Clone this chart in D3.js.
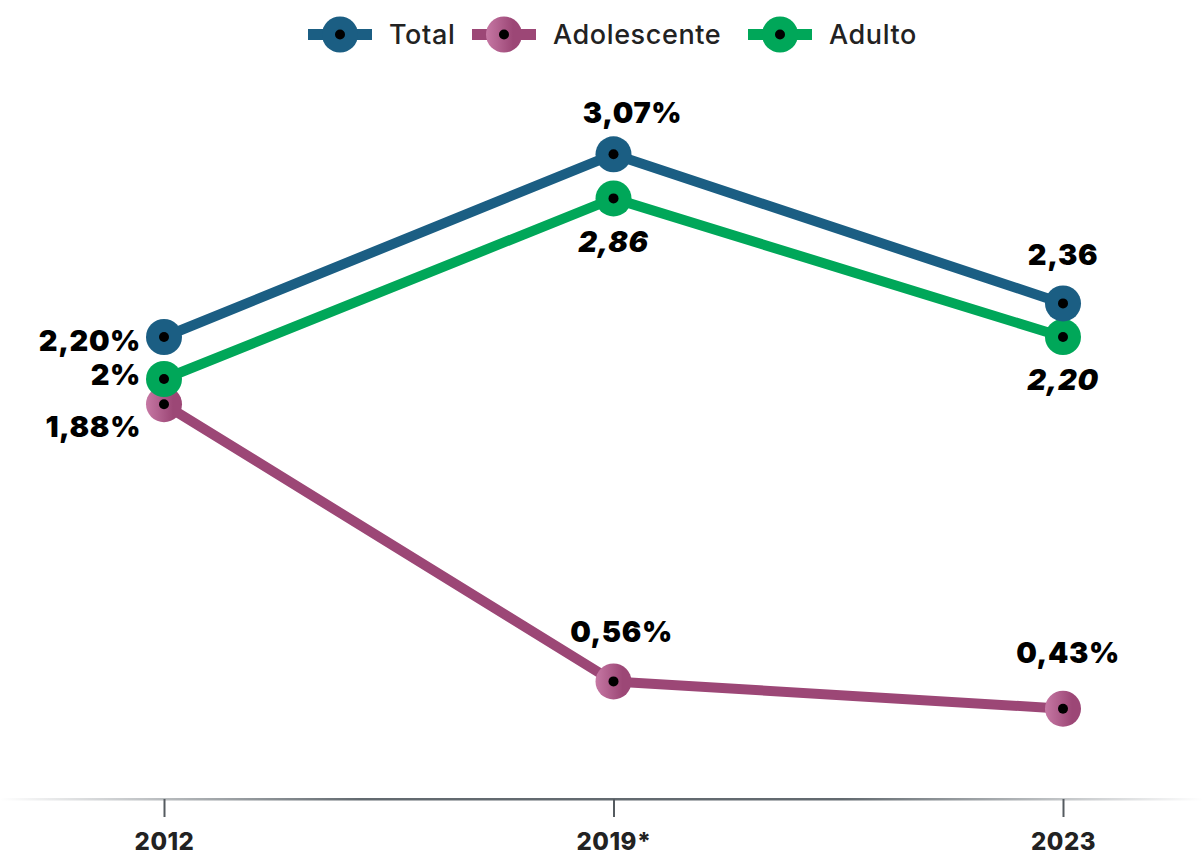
<!DOCTYPE html>
<html><head><meta charset="utf-8">
<script src="https://cdn.jsdelivr.net/npm/d3@7"></script>
<style>
html,body{margin:0;padding:0;background:#fff;}
svg{display:block;}
</style></head>
<body>
<svg id="chart" width="1203" height="858"></svg>
<script>
const years = ["2012", "2019*", "2023"];
const seriesNames = ["Total", "Adolescente", "Adulto"];
const totalValues = [2.20, 3.07, 2.36];
const adolescenteValues = [1.88, 0.56, 0.43];
const adultoValues = [2.00, 2.86, 2.20];
const totalLabels = ["2,20%", "3,07%", "2,36"];
const adolescenteLabels = ["1,88%", "0,56%", "0,43%"];
const adultoLabels = ["2%", "2,86", "2,20"];
const colors = ["#1b5e83", "#9c4776", "#00a759"];

const svg = d3.select("#chart");
const W = 1203, H = 858;
const FONT = "Inter, 'Open Sans', sans-serif";

const x = d3.scalePoint().domain(years).range([164, 1063]);
const y = d3.scaleLinear().domain([0, 3.8]).range([799, 1]);

const defs = svg.append("defs");
const ag = defs.append("linearGradient").attr("id","axisGrad").attr("x1","0%").attr("x2","100%");
ag.append("stop").attr("offset","0%").attr("stop-color","#5a6268").attr("stop-opacity",0);
ag.append("stop").attr("offset","30%").attr("stop-color","#5a6268").attr("stop-opacity",0.95);
ag.append("stop").attr("offset","70%").attr("stop-color","#5a6268").attr("stop-opacity",0.95);
ag.append("stop").attr("offset","100%").attr("stop-color","#5a6268").attr("stop-opacity",0);
const pg = defs.append("linearGradient").attr("id","pinkGrad").attr("x1","0%").attr("x2","100%");
pg.append("stop").attr("offset","0%").attr("stop-color","#c678a4");
pg.append("stop").attr("offset","75%").attr("stop-color","#9c4776");

// axis
svg.append("rect").attr("x", 0).attr("y", 798).attr("width", W).attr("height", 2.5).attr("fill","url(#axisGrad)");
const axis = d3.axisBottom(x).tickSize(18).tickPadding(20);
const ax = svg.append("g").attr("transform","translate(0,799)").call(axis);
ax.select(".domain").remove();
ax.selectAll(".tick line").attr("stroke","#555b60").attr("stroke-width",2);
ax.selectAll(".tick text").attr("fill","#222").attr("font-family",FONT).attr("font-weight",800)
  .attr("font-size",24).attr("letter-spacing",0.5).attr("dy","0.55em");

const series = [
  {name: seriesNames[0], values: totalValues, labels: totalLabels, color: colors[0], fill: colors[0]},
  {name: seriesNames[1], values: adolescenteValues, labels: adolescenteLabels, color: colors[1], fill: "url(#pinkGrad)"},
  {name: seriesNames[2], values: adultoValues, labels: adultoLabels, color: colors[2], fill: colors[2]}
];

const line = d3.line().x((d,i)=>x(years[i])).y(d=>y(d));
[1,2,0].forEach(si=>{
  const s = series[si];
  svg.append("path").attr("d", line(s.values)).attr("fill","none")
    .attr("stroke", s.color).attr("stroke-width", 10).attr("stroke-linejoin","round");
});
[1,2,0].forEach(si=>{
  const s = series[si];
  const g = svg.append("g");
  g.selectAll("circle.m").data(s.values).join("circle").attr("class","m")
    .attr("cx",(d,i)=>x(years[i])).attr("cy",d=>y(d)).attr("r",18).attr("fill",s.fill);
  g.selectAll("circle.d").data(s.values).join("circle").attr("class","d")
    .attr("cx",(d,i)=>x(years[i])).attr("cy",d=>y(d)).attr("r",5).attr("fill","#000");
});

// labels: [series index, point index, anchor, dx, dy(from point), italic]
const labelPlacement = [
  [0,0,"end",-23,14,false],
  [0,1,"middle",19,-31,false],
  [0,2,"middle",0,-38,false],
  [1,0,"end",-23,33,false],
  [1,1,"middle",8,-39,false],
  [1,2,"middle",5,-46,false],
  [2,0,"end",-23,6,false],
  [2,1,"middle",0,54,true],
  [2,2,"middle",0,53,true]
];
svg.append("g").selectAll("text").data(labelPlacement).join("text")
  .attr("x", d=>x(years[d[1]]) + d[3])
  .attr("y", d=>y(series[d[0]].values[d[1]]) + d[4])
  .attr("text-anchor", d=>d[2])
  .attr("font-family", FONT).attr("font-weight", 900).attr("font-size", 29)
  .attr("letter-spacing", 0.6)
  .attr("font-style", d=>d[5] ? "italic" : "normal")
  .attr("fill","#000")
  .text(d=>series[d[0]].labels[d[1]]);

// legend
const legendX = [308, 472, 748];
const lg = svg.append("g");
series.forEach((s,i)=>{
  const gx = legendX[i];
  lg.append("rect").attr("x",gx).attr("y",29).attr("width",64).attr("height",11).attr("fill",s.color);
  lg.append("circle").attr("cx",gx+32).attr("cy",34.5).attr("r",18).attr("fill",s.fill);
  lg.append("circle").attr("cx",gx+32).attr("cy",34.5).attr("r",5).attr("fill","#000");
  lg.append("text").attr("x",gx+81).attr("y",44).attr("font-family",FONT).attr("font-weight",500)
    .attr("font-size",27).attr("letter-spacing",0.6).attr("fill","#222").text(s.name);
});
</script>
</body></html>
